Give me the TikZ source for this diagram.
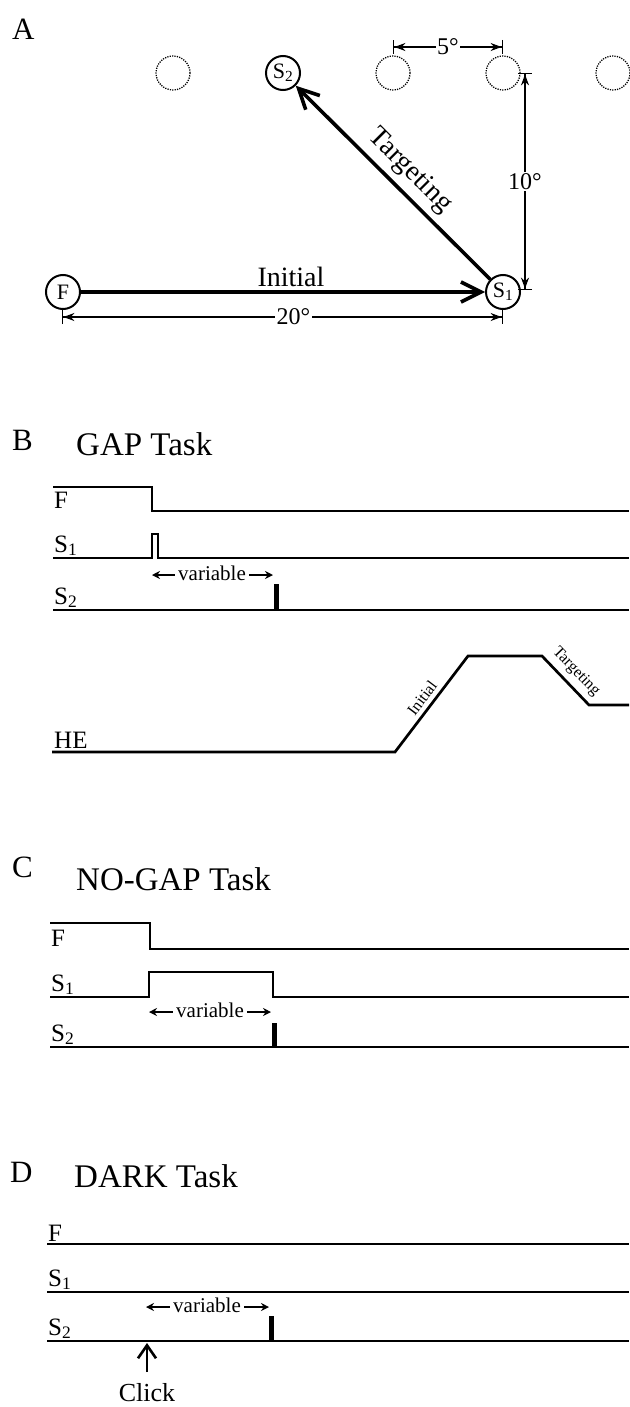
\documentclass[tikz,border=0pt]{standalone}
\usepackage{fontspec}
\setmainfont{Liberation Serif}
\usetikzlibrary{arrows.meta}
\tikzset{
  panel/.style={font=\fontsize{31}{31}\selectfont, anchor=base west, inner sep=0pt},
  title/.style={font=\fontsize{33}{33}\selectfont, anchor=base west, inner sep=0pt},
  tlabel/.style={font=\fontsize{25}{25}\selectfont, anchor=south west, inner sep=0pt},
  trace/.style={line width=2.7pt, line join=miter},
  spike/.style={line width=5pt},
  target/.style={circle, draw, line width=2pt, minimum size=34pt, inner sep=0pt, font=\fontsize{22}{22}\selectfont},
  ghost/.style={circle, draw, line width=1.3pt, dash pattern=on 1.2pt off 1.2pt, minimum size=34pt, inner sep=0pt},
  sacc/.style={line width=3.6pt, -{Straight Barb[length=20pt,width=20pt]}},
  dim/.style={line width=1.4pt, {Bar[width=14pt]Stealth[length=11pt,width=8pt]}-{Stealth[length=11pt,width=8pt]Bar[width=14pt]}},
  dimlabel/.style={fill=white, inner sep=1.5pt, font=\fontsize{24}{24}\selectfont},
  bigtext/.style={font=\fontsize{28}{28}\selectfont, inner sep=0pt},
  varr/.style={line width=1.3pt, -{Stealth[length=8pt,width=8pt]}},
  vartext/.style={font=\fontsize{21}{21}\selectfont, inner sep=0pt, anchor=base},
  smalltext/.style={font=\fontsize{16}{16}\selectfont, inner sep=0pt},
  clickarrow/.style={line width=2.6pt, -{Straight Barb[length=13pt,width=18pt]}},
}
\begin{document}
\begin{tikzpicture}[x=1pt,y=-1pt]
\useasboundingbox (0,0) rectangle (629,1407);

% ---------------- Panel A
\node[panel] (lA) at (12,40) {A};
\node[ghost] (c1) at (173,73) {};
\node[target] (S2) at (283,73) {S\textsubscript{2}};
\node[ghost] (c3) at (393,73) {};
\node[ghost] (c4) at (503,73) {};
\node[ghost] (c5) at (613,73) {};
\node[target] (F) at (63,292) {F};
\node[target] (S1) at (503,292) {S\textsubscript{1}};
\draw[sacc] (F) -- (S1);
\draw[sacc] (S1) -- (S2);
\node[bigtext, anchor=base] (ini) at (291,286) {Initial};
\node[bigtext, rotate=-45] (tgt) at (410,171) {Targeting};
\coordinate (d5a) at (393,47);
\coordinate (d5b) at (503,47);
\draw[dim] (d5a) -- node[dimlabel] (l5) {5°} (d5b);
\coordinate (d10a) at (525,73);
\coordinate (d10b) at (525,290);
\draw[dim] (d10a) -- node[dimlabel] (l10) {10°} (d10b);
\coordinate (d20a) at (62,317);
\coordinate (d20b) at (503,317);
\draw[dim] (d20a) -- node[dimlabel, pos=0.525] (l20) {20°} (d20b);

% ---------------- Panel B
\node[panel] (lB) at (12,450) {B};
\node[title] (tB) at (76,455) {GAP Task};
\draw[trace] (53,487) -- (152,487) -- (152,511) -- (629,511);
\node[tlabel] (fB) at (54,509) {F};
\draw[trace] (53,558) -- (152,558) -- (152,534) -- (158,534) -- (158,558) -- (629,558);
\node[tlabel] (s1B) at (54,556) {S\textsubscript{1}};
\coordinate (vBl) at (152,575);
\coordinate (vBr) at (273,575);
\node[vartext] (vB) at (212,580) {variable};
\draw[varr] ([xshift=-3pt]vB.west |- vBl) -- (vBl);
\draw[varr] ([xshift=3pt]vB.east |- vBr) -- (vBr);
\draw[trace] (53,610) -- (629,610);
\draw[spike] (276,610) -- (276,584);
\node[tlabel] (s2B) at (54,608) {S\textsubscript{2}};
\draw[trace] (52,752) -- (395,752) -- (468,656) -- (542,656) -- (589,705) -- (629,705);
\node[tlabel] (he) at (54,749) {HE};
\node[smalltext, rotate=53] (heI) at (422,698) {Initial};
\node[smalltext, rotate=-46] (heT) at (576,672) {Targeting};

% ---------------- Panel C
\node[panel] (lC) at (12,877) {C};
\node[title] (tC) at (76,890) {NO-GAP Task};
\draw[trace] (50,923) -- (150,923) -- (150,949) -- (629,949);
\node[tlabel] (fC) at (51,947) {F};
\draw[trace] (50,997) -- (149,997) -- (149,972) -- (273,972) -- (273,997) -- (629,997);
\node[tlabel] (s1C) at (51,995) {S\textsubscript{1}};
\coordinate (vCl) at (149,1012);
\coordinate (vCr) at (271,1012);
\node[vartext] (vC) at (210,1017) {variable};
\draw[varr] ([xshift=-3pt]vC.west |- vCl) -- (vCl);
\draw[varr] ([xshift=3pt]vC.east |- vCr) -- (vCr);
\draw[trace] (50,1047) -- (629,1047);
\draw[spike] (274,1047) -- (274,1023);
\node[tlabel] (s2C) at (51,1045) {S\textsubscript{2}};

% ---------------- Panel D
\node[panel] (lD) at (10,1182) {D};
\node[title] (tD) at (74,1187) {DARK Task};
\draw[trace] (47,1244) -- (629,1244);
\node[tlabel] (fD) at (48,1242) {F};
\draw[trace] (47,1292) -- (629,1292);
\node[tlabel] (s1D) at (48,1290) {S\textsubscript{1}};
\coordinate (vDl) at (146,1307);
\coordinate (vDr) at (269,1307);
\node[vartext] (vD) at (207,1312) {variable};
\draw[varr] ([xshift=-3pt]vD.west |- vDl) -- (vDl);
\draw[varr] ([xshift=3pt]vD.east |- vDr) -- (vDr);
\draw[trace] (47,1341) -- (629,1341);
\draw[spike] (271,1341) -- (271,1316);
\node[tlabel] (s2D) at (48,1339) {S\textsubscript{2}};
\node[font=\fontsize{26}{26}\selectfont, inner sep=0pt, anchor=base] (click) at (147,1401) {Click};
\coordinate (ckb) at (147,1372);
\coordinate (ckt) at (147,1343);
\draw[clickarrow] (ckb) -- (ckt);
\end{tikzpicture}
\end{document}
